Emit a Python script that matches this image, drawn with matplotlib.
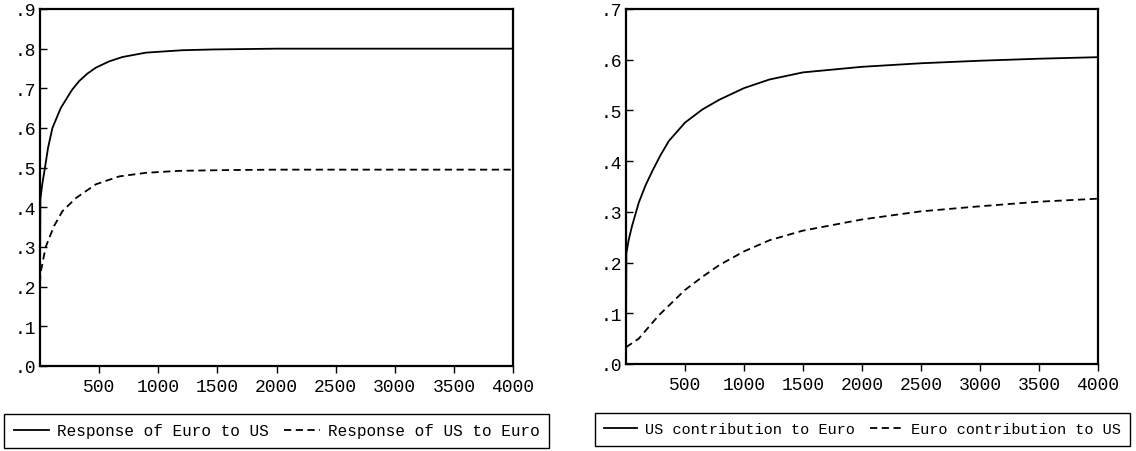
import matplotlib
matplotlib.use("Agg")
import matplotlib.pyplot as plt
from matplotlib.ticker import FuncFormatter

plt.rcParams['font.family'] = ['Liberation Mono', 'DejaVu Sans Mono']
plt.rcParams['font.size'] = 13

# left panel: impulse responses
x_euro_us = [0, 3, 20, 42, 68, 105, 175, 268, 330, 400, 472, 585, 698, 896, 1200, 1460,
             2000, 3000, 4000]
y_euro_us = [0.21, 0.42, 0.46, 0.50, 0.55, 0.60, 0.65, 0.695, 0.718, 0.737, 0.752, 0.768,
             0.779, 0.79, 0.796, 0.798, 0.800, 0.800, 0.800]
x_us_euro = [0, 5, 48, 119, 189, 302, 472, 670, 896, 1178, 1600, 2000, 3000, 4000]
y_us_euro = [0.21, 0.235, 0.30, 0.353, 0.39, 0.423, 0.458, 0.478, 0.487, 0.492, 0.494,
             0.495, 0.495, 0.495]

# right panel: contributions
x_us_contrib = [0, 3, 23, 51, 108, 165, 222, 293, 364, 500, 648, 790, 1000, 1216, 1500,
                2000, 2500, 3000, 3500, 4000]
y_us_contrib = [0.05, 0.218, 0.245, 0.272, 0.318, 0.352, 0.380, 0.412, 0.440, 0.476, 0.502,
                0.521, 0.544, 0.561, 0.575, 0.586, 0.593, 0.598, 0.602, 0.605]
x_euro_contrib = [0, 108, 278, 500, 648, 790, 1000, 1216, 1500, 2000, 2500, 3000, 3500, 4000]
y_euro_contrib = [0.033, 0.050, 0.096, 0.146, 0.172, 0.195, 0.222, 0.244, 0.263, 0.285,
                  0.301, 0.311, 0.320, 0.326]

x_ticks = [500, 1000, 1500, 2000, 2500, 3000, 3500, 4000]

fig = plt.figure(figsize=(11.36, 4.52), dpi=100)
W, H = 1136, 452


def make_axes(px_left, px_right, px_top, px_bottom):
    return fig.add_axes([px_left / W, 1 - px_bottom / H,
                         (px_right - px_left) / W, (px_bottom - px_top) / H])


def style(ax, ymax):
    ax.set_xlim(0, 4000)
    ax.set_ylim(0, ymax)
    ax.set_xticks(x_ticks)
    ax.set_yticks([i / 10 for i in range(int(round(ymax * 10)) + 1)])
    ax.yaxis.set_major_formatter(FuncFormatter(lambda v, p: f"{v:.1f}".lstrip("0")))
    ax.tick_params(axis='y', direction='in', length=5, width=1, pad=3)
    ax.tick_params(axis='x', direction='out', length=5, width=1, pad=4)
    for s in ax.spines.values():
        s.set_linewidth(1.6)


dash = (0, (4, 2.5))

ax1 = make_axes(40, 513, 10, 367)
l1, = ax1.plot(x_euro_us, y_euro_us, color='black', lw=1.3)
l2, = ax1.plot(x_us_euro, y_us_euro, color='black', lw=1.3, linestyle=dash)
style(ax1, 0.9)

ax2 = make_axes(626, 1098, 10, 365)
l3, = ax2.plot(x_us_contrib, y_us_contrib, color='black', lw=1.3)
l4, = ax2.plot(x_euro_contrib, y_euro_contrib, color='black', lw=1.3, linestyle=dash)
style(ax2, 0.7)

leg_kw = dict(loc='center', ncol=2, fancybox=False, framealpha=1, edgecolor='black',
              handlelength=2.2, handletextpad=0.5, columnspacing=1.0,
              borderpad=0.6, borderaxespad=0)
leg1 = fig.legend([l1, l2], ['Response of Euro to US', 'Response of US to Euro'],
                  bbox_to_anchor=(276.5 / W, 1 - 432 / H), fontsize=11.5, **leg_kw)
leg2 = fig.legend([l3, l4], ['US contribution to Euro', 'Euro contribution to US'],
                  bbox_to_anchor=(862.5 / W, 1 - 430.5 / H), fontsize=11, **leg_kw)
for leg in (leg1, leg2):
    leg.get_frame().set_linewidth(1.0)

fig.savefig('out.png', dpi=100)
